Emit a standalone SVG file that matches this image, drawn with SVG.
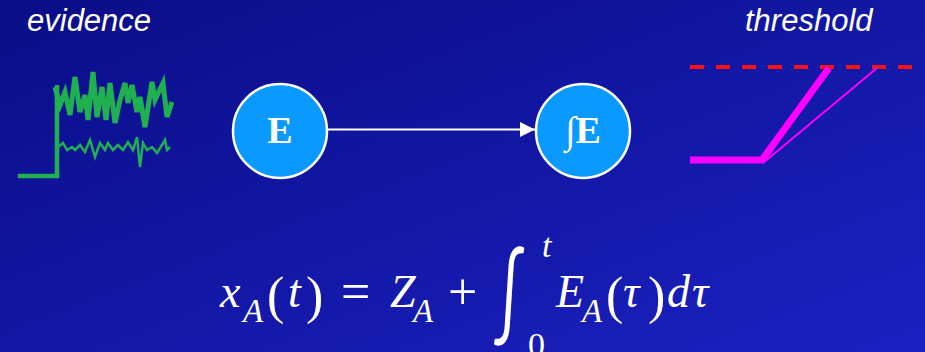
<svg xmlns="http://www.w3.org/2000/svg" width="925" height="352" viewBox="0 0 925 352">
<defs>
<linearGradient id="bg" x1="0" y1="0" x2="1" y2="1">
<stop offset="0" stop-color="#0a0d86"/>
<stop offset="1" stop-color="#1b21c2"/>
</linearGradient>
<marker id="ah" viewBox="0 0 10 10" refX="10" refY="5" markerWidth="15" markerHeight="15" markerUnits="userSpaceOnUse" orient="auto">
<path d="M0,0 L10,5 L0,10 z" fill="#ffffff"/>
</marker>
<style>
.lbl{font-family:"Liberation Sans",Arial,sans-serif;font-style:italic;font-size:31px;fill:#ffffff}
.node{fill:#0a99ff;stroke:#ffffff;stroke-width:2.5}
.nt{font-family:"Liberation Serif","Times New Roman",serif;font-weight:bold;font-size:38px;fill:#ffffff;text-anchor:middle}
.eq{font-family:"Liberation Serif","Times New Roman",serif;fill:#ffffff}
.it{font-style:italic}
.m{font-size:46px}
.s{font-size:33px}
.p{font-size:52px}
</style>
</defs>
<rect width="925" height="352" fill="url(#bg)"/>
<text class="lbl" x="27" y="31">evidence</text>
<text class="lbl" x="745" y="31">threshold</text>
<g id="evidence" fill="none" stroke="#20b050" stroke-linejoin="miter">
<polyline stroke-width="4.5" points="18,176 57,176 57,85"/>
<polyline stroke-width="5" points="55,87 60,105 65,92 70,115 75,77 80,112 85,95 88,120 93,72 97,117 102,87 106,120 110,83 115,123 120,100 125,83 128,103 132,85 137,112 140,97 145,127 152,82 155,100 163,83 167,117 172,102"/>
<polyline stroke-width="2.5" points="58,147 63,143 67,150 72,147 75,150 80,145 85,152 90,140 95,157 100,143 105,150 108,143 113,150 118,145 123,150 128,142 133,150 137,137 140,167 143,143 147,150 152,147 157,153 162,145 165,140 167,150 170,147"/>
</g>
<g id="threshold">
<line x1="690" y1="67" x2="918" y2="67" stroke="#ff1010" stroke-width="4" stroke-dasharray="14,12"/>
<polyline points="690,160 762,160 829,68" fill="none" stroke="#ff00ff" stroke-width="7" stroke-linejoin="miter"/>
<line x1="763" y1="163" x2="877" y2="68" stroke="#ff00ff" stroke-width="2"/>
</g>
<g id="connectors">
<line x1="328" y1="129.5" x2="535" y2="129.5" stroke="#ffffff" stroke-width="2" marker-end="url(#ah)"/>
</g>
<g id="nodeE">
<circle class="node" cx="280" cy="131" r="47"/>
<text class="nt" x="280" y="143">E</text>
</g>
<g id="nodeIntE">
<circle class="node" cx="583" cy="131" r="47"/>
<text class="nt" x="583" y="143">∫E</text>
</g>
<g id="equation" class="eq">
<text class="it m" x="220" y="307">x</text>
<text class="it s" x="243" y="322">A</text>
<text class="p" x="267" y="313">(</text>
<text class="it m" x="288" y="307">t</text>
<text class="p" x="306" y="313">)</text>
<text class="p" x="341" y="309">=</text>
<text class="it m" x="390" y="307">Z</text>
<text class="it s" x="413" y="322">A</text>
<text class="p" x="448" y="309">+</text>
<text transform="translate(494,328) scale(0.6,1)" font-size="100" font-weight="400" font-family="Lato,'DejaVu Sans',sans-serif">∫</text>
<text class="it" x="542" y="257" font-size="34">t</text>
<text x="528" y="356" font-size="34">0</text>
<text class="it m" x="556" y="307">E</text>
<text class="it s" x="582" y="322">A</text>
<text class="p" x="606" y="313">(</text>
<text class="it m" x="623" y="307">τ</text>
<text class="p" x="648" y="313">)</text>
<text class="it m" x="667" y="307">d</text>
<text class="it m" x="692" y="307">τ</text>
</g>
</svg>
